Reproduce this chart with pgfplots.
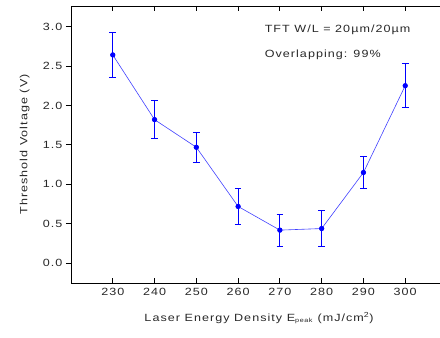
\documentclass[border=0pt]{standalone}
\usepackage{fontspec}
\setmainfont[FakeStretch=1.2, LetterSpace=10]{Liberation Sans}
\usepackage{pgfplots}
\pgfplotsset{compat=1.18}
\definecolor{txt}{RGB}{40,40,40}
\begin{document}
\fontsize{10.5}{12}\selectfont
\begin{tikzpicture}
\begin{axis}[
  scale only axis,
  width=376bp, height=277bp,
  xmin=220, xmax=310, ymin=-0.25, ymax=3.26,
  xtick={230,240,...,300},
  ytick={0,0.5,...,3.0},
  /pgf/number format/assume math mode=true,
  xticklabel={\pgfmathprintnumber[fixed,precision=0]{\tick}},
  yticklabel={\pgfmathprintnumber[fixed,fixed zerofill,precision=1]{\tick}},
  tick align=outside,
  major tick length=5bp,
  axis line style={black, line width=0.8pt},
  xtick style={draw=none},
  ytick style={draw=black, line width=0.8pt},
  tick label style={font=\fontsize{10.5}{12}\selectfont, color=txt},
  xticklabel style={yshift=3bp},
  xlabel={Laser Energy Density E\textsubscript{\fontsize{6}{7}\selectfont peak} (mJ/cm\textsuperscript{2})},
  ylabel={Threshold Voltage (V)},
  label style={font=\fontsize{10.5}{12}\selectfont, color=txt},
  xlabel style={yshift=-9bp},
  ylabel style={yshift=6bp},
  clip=false,
  unbounded coords=jump,
]
% inward x ticks at bottom and top
\addplot[draw=black, line width=0.8pt, mark=none]
  coordinates {
  (230,-0.25) (230,-0.187) (nan,nan) (230,3.26) (230,3.197) (nan,nan)
  (240,-0.25) (240,-0.187) (nan,nan) (240,3.26) (240,3.197) (nan,nan)
  (250,-0.25) (250,-0.187) (nan,nan) (250,3.26) (250,3.197) (nan,nan)
  (260,-0.25) (260,-0.187) (nan,nan) (260,3.26) (260,3.197) (nan,nan)
  (270,-0.25) (270,-0.187) (nan,nan) (270,3.26) (270,3.197) (nan,nan)
  (280,-0.25) (280,-0.187) (nan,nan) (280,3.26) (280,3.197) (nan,nan)
  (290,-0.25) (290,-0.187) (nan,nan) (290,3.26) (290,3.197) (nan,nan)
  (300,-0.25) (300,-0.187) (nan,nan) (300,3.26) (300,3.197)
  };
\addplot[color=blue!75, line width=0.6pt, mark=none]
  coordinates {
  (230,2.64) (240,1.82) (250,1.47) (260,0.72)
  (270,0.42) (280,0.44) (290,1.15) (300,2.25)
  };
\addplot[blue, only marks, mark=none,
  error bars/.cd, y dir=both, y explicit, error mark=none,
  error bar style={draw=blue, line width=0.8pt}]
  coordinates {
  (230,2.64) +- (0,0.29)
  (240,1.82) +- (0,0.24)
  (250,1.47) +- (0,0.19)
  (260,0.72) +- (0,0.23)
  (270,0.42) +- (0,0.20)
  (280,0.44) +- (0,0.23)
  (290,1.15) +- (0,0.20)
  (300,2.25) +- (0,0.28)
  };
% caps at the ends of the error bars (value +- error), as short segments
\addplot[draw=blue, line width=0.8pt, mark=none]
  coordinates {
  (229.2,2.93) (230.8,2.93) (nan,nan) (229.2,2.35) (230.8,2.35) (nan,nan)
  (239.2,2.06) (240.8,2.06) (nan,nan) (239.2,1.58) (240.8,1.58) (nan,nan)
  (249.2,1.66) (250.8,1.66) (nan,nan) (249.2,1.28) (250.8,1.28) (nan,nan)
  (259.2,0.95) (260.8,0.95) (nan,nan) (259.2,0.49) (260.8,0.49) (nan,nan)
  (269.2,0.62) (270.8,0.62) (nan,nan) (269.2,0.22) (270.8,0.22) (nan,nan)
  (279.2,0.67) (280.8,0.67) (nan,nan) (279.2,0.21) (280.8,0.21) (nan,nan)
  (289.2,1.35) (290.8,1.35) (nan,nan) (289.2,0.95) (290.8,0.95) (nan,nan)
  (299.2,2.53) (300.8,2.53) (nan,nan) (299.2,1.97) (300.8,1.97)
  };
\addplot[blue, only marks, mark=*, mark size=2.4pt, mark options={fill=blue}]
  coordinates {
  (230,2.64) (240,1.82) (250,1.47) (260,0.72)
  (270,0.42) (280,0.44) (290,1.15) (300,2.25)
  };
\node[anchor=west, color=txt, font=\fontsize{10.5}{12}\selectfont] at (axis cs:265.5,2.96) {TFT W/L = 20µm/20µm};
\node[anchor=west, color=txt, font=\fontsize{10.5}{12}\selectfont] at (axis cs:265.5,2.64) {Overlapping: 99\%};
\end{axis}
\pgfresetboundingbox
\useasboundingbox ([xshift=-71bp,yshift=-55bp]current axis.south west) rectangle ([xshift=369bp,yshift=6bp]current axis.north west);
\end{tikzpicture}
\end{document}
